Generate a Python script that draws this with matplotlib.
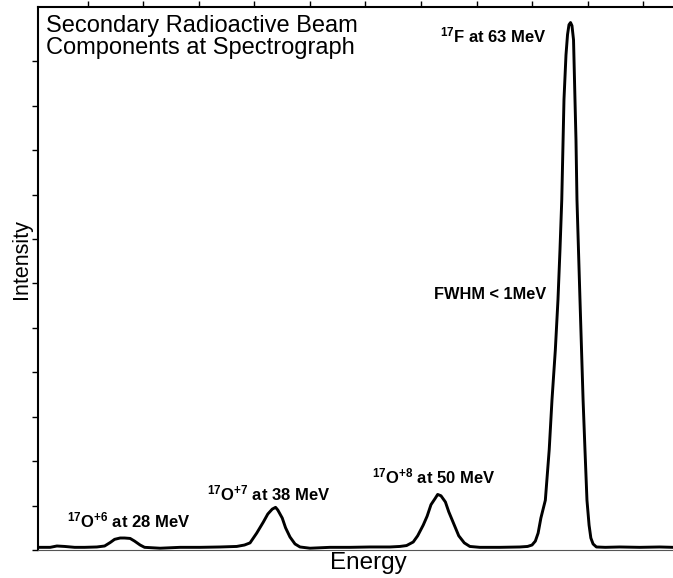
import matplotlib.pyplot as plt

plt.rcParams['font.family'] = 'Liberation Sans'
plt.rcParams['mathtext.fontset'] = 'custom'
plt.rcParams['mathtext.rm'] = 'Liberation Sans:bold'
plt.rcParams['mathtext.it'] = 'Liberation Sans:bold'
plt.rcParams['mathtext.bf'] = 'Liberation Sans:bold'

# spectrum (channel, counts)
channel = [6, 16, 22, 29, 38, 47, 58, 65, 70, 74, 79, 83, 88, 92, 97, 101,
           115, 133, 151, 169, 184, 191, 196, 202, 208, 212, 216, 219, 221,
           225, 228, 232, 236.5, 241, 250, 268, 286, 304, 322, 331, 337, 343,
           347, 352, 355.5, 359, 363, 365, 368, 372, 375, 380, 384, 389, 394,
           403, 421, 439, 446, 450, 453, 455.5, 458, 462, 465.5, 468, 471,
           473.4, 475.2, 476.8, 478, 478.8, 480.6, 482, 483.3, 484.7, 486,
           487.4, 488.7, 489.6, 490.5, 493.2, 496, 497.7, 499.5, 501.4, 503,
           505, 508, 516, 529, 547, 565, 577]
counts = [3, 3, 4.5, 4, 3, 3, 3.4, 4.5, 8.4, 12, 13.5, 13.5, 13, 10, 5.6, 3,
          2, 3, 3, 3.4, 4, 5.6, 8, 19, 31.5, 40.5, 46, 48, 45,
          36, 25, 14.6, 6.8, 3.4, 2, 3, 3, 3.4, 3.4, 4, 5, 9,
          16, 28, 38, 51, 58.5, 62.5, 61, 54, 43, 28, 16, 8, 4,
          3, 3, 3.4, 4, 5.6, 10, 19, 36, 56, 113, 169, 225,
          282, 338, 394, 462, 507, 557, 580, 591, 593.5, 590,
          574, 507, 462, 394, 282, 169, 113, 56, 28, 13.5,
          6.8, 3.4, 3, 3.4, 3, 3.4, 3]

peak_labels = [r'$^{17}$O$^{+6}$ at 28 MeV', r'$^{17}$O$^{+7}$ at 38 MeV',
               r'$^{17}$O$^{+8}$ at 50 MeV', r'$^{17}$F at 63 MeV']
label_x = [31, 157, 306, 367]
label_y = [25, 56, 75, 571]

fig = plt.figure(figsize=(6.73, 5.78), dpi=100)
ax = fig.add_axes([38 / 673, 28 / 578, 635 / 673, 543 / 578])

ax.plot(channel, counts, color='black', lw=2.1, solid_joinstyle='round')

ax.set_xlim(5, 577)
ax.set_ylim(0, 611)

for lab, lx, ly in zip(peak_labels, label_x, label_y):
    ax.text(lx, ly, lab, fontsize=12, fontweight='bold', ha='left', va='baseline')
ax.text(362, 282, 'FWHM < 1MeV', fontsize=11.8, fontweight='bold', ha='left', va='baseline')

ax.text(0.013, 0.986, 'Secondary Radioactive Beam\nComponents at Spectrograph',
        transform=ax.transAxes, fontsize=17, ha='left', va='top', linespacing=1.02)

ax.set_xlabel('Energy', fontsize=17.5)
ax.xaxis.set_label_coords(0.52, -0.004)
ax.set_ylabel('Intensity', fontsize=15.5)
ax.yaxis.set_label_coords(-0.009, 0.535)

ax.spines['right'].set_visible(False)
ax.spines['left'].set_linewidth(1.5)
ax.spines['top'].set_linewidth(1.5)
ax.spines['bottom'].set_linewidth(0.8)
ax.spines['bottom'].set_color('#555555')

ax.set_xticks(range(50, 551, 50))
ax.set_yticks(range(0, 551, 50))
ax.tick_params(axis='x', bottom=False, top=True, labelbottom=False, direction='out', length=4, width=1)
ax.tick_params(axis='y', left=True, labelleft=False, direction='out', length=4, width=1)

fig.savefig('out.png', dpi=100)
